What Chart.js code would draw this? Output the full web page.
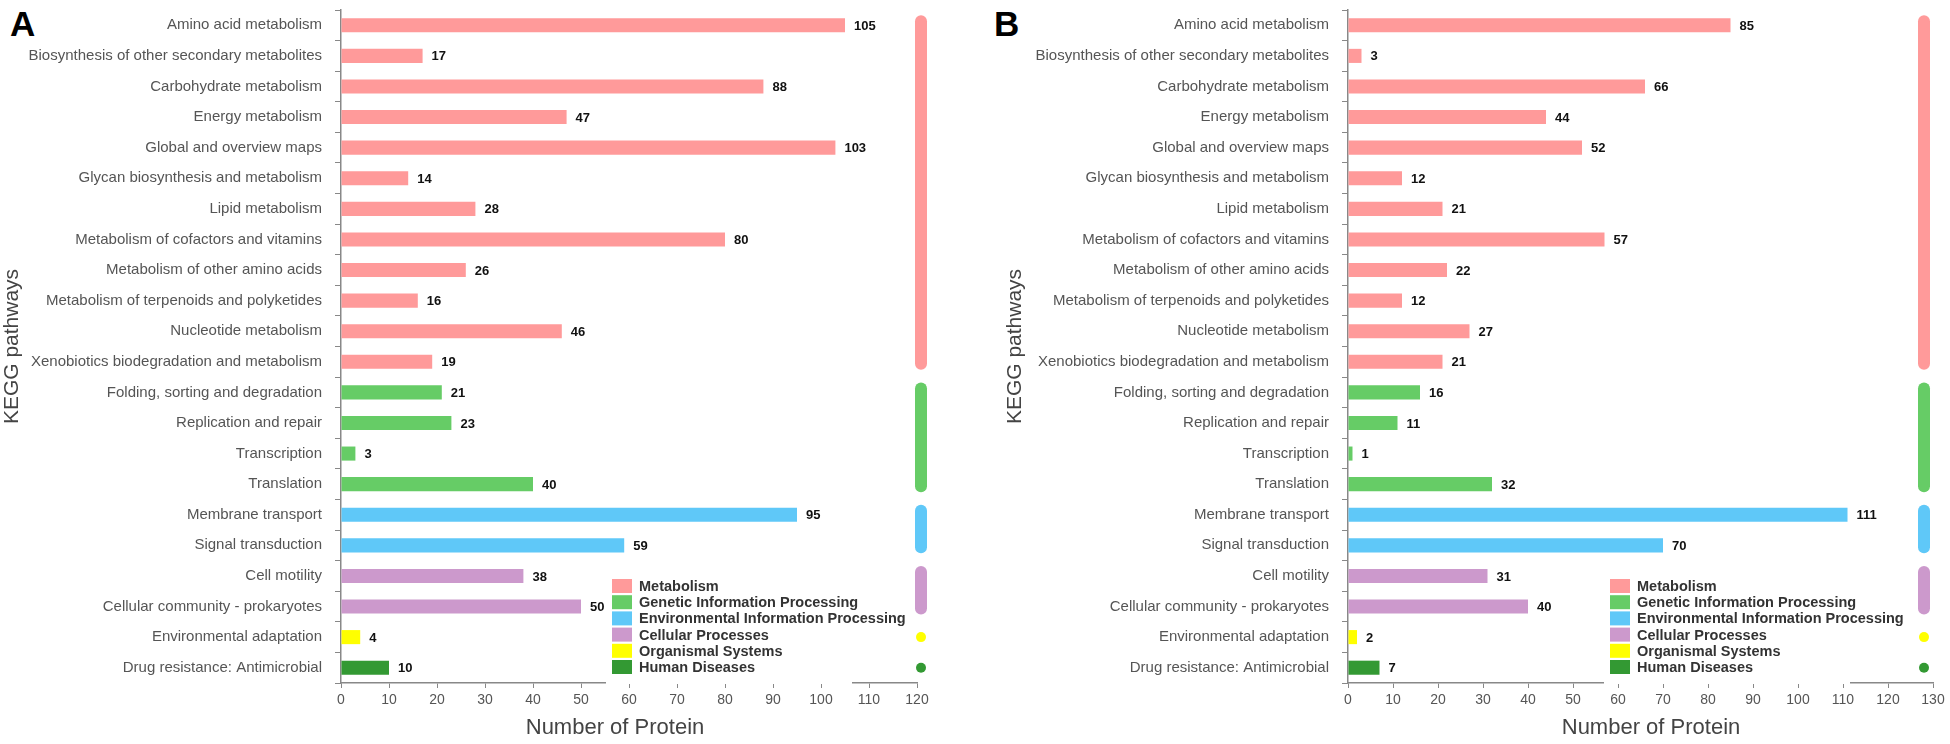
<!DOCTYPE html>
<html>
<head>
<meta charset="utf-8">
<script src="https://cdn.jsdelivr.net/npm/chart.js@4.4.1/dist/chart.umd.min.js"></script>
<style>
  body { margin: 0; background: #fff; width: 1950px; height: 744px; overflow: hidden; position: relative; font-family: "Liberation Sans", Arial, sans-serif; }
  .panel { position: absolute; top: 0; height: 744px; }
  .letter { position: absolute; top: 4px; font: bold 35px "Liberation Sans", Arial, sans-serif; color: #000; }
</style>
</head>
<body>
<div class="letter" style="left:10px">A</div>
<div class="letter" style="left:994px">B</div>
<div class="panel" style="left:0; width:1000px"><canvas id="chartA"></canvas></div>
<div class="panel" style="left:1003px; width:947px"><canvas id="chartB"></canvas></div>
<script>
// categories
const pathways = [
    'Amino acid metabolism',
    'Biosynthesis of other secondary metabolites',
    'Carbohydrate metabolism',
    'Energy metabolism',
    'Global and overview maps',
    'Glycan biosynthesis and metabolism',
    'Lipid metabolism',
    'Metabolism of cofactors and vitamins',
    'Metabolism of other amino acids',
    'Metabolism of terpenoids and polyketides',
    'Nucleotide metabolism',
    'Xenobiotics biodegradation and metabolism',
    'Folding, sorting and degradation',
    'Replication and repair',
    'Transcription',
    'Translation',
    'Membrane transport',
    'Signal transduction',
    'Cell motility',
    'Cellular community - prokaryotes',
    'Environmental adaptation',
    'Drug resistance: Antimicrobial'
];

// KEGG level-1 groups, in order, with how many pathways each holds
const groupNames = ['Metabolism', 'Genetic Information Processing', 'Environmental Information Processing',
    'Cellular Processes', 'Organismal Systems', 'Human Diseases'];
const groupSizes = [12, 4, 2, 2, 1, 1];
const groupColors = ['#ff9a9a', '#66cc66', '#5fc8f8', '#cc99cc', '#ffff00', '#339933'];

// series values
const countsA = [105, 17, 88, 47, 103, 14, 28, 80, 26, 16, 46, 19, 21, 23, 3, 40, 95, 59, 38, 50, 4, 10];
const countsB = [85, 3, 66, 44, 52, 12, 21, 57, 22, 12, 27, 21, 16, 11, 1, 32, 111, 70, 31, 40, 2, 7];

// x axis ranges
const xMaxA = 120;
const xMaxB = 130;
const xStep = 10;

const font = '"Liberation Sans", Arial, sans-serif';

// colour of each bar from its group
const barColors = [];
groupSizes.forEach((n, g) => { for (let i = 0; i < n; i++) barColors.push(groupColors[g]); });

// value labels at the end of each bar
const valueLabels = {
    id: 'valueLabels',
    afterDatasetsDraw(chart) {
        const ctx = chart.ctx;
        const vals = chart.data.datasets[0].data;
        ctx.save();
        ctx.font = 'bold 13px ' + font;
        ctx.fillStyle = '#111';
        ctx.textBaseline = 'middle';
        chart.getDatasetMeta(0).data.forEach((bar, i) => {
            ctx.fillText(vals[i], bar.x + 9, bar.y + 1);
        });
        ctx.restore();
    }
};

// rounded group bars on the right, legend box, x title
const groupMarks = {
    id: 'groupMarks',
    afterDraw(chart, args, opts) {
        const ctx = chart.ctx;
        const y = chart.scales.y;
        const area = chart.chartArea;
        ctx.save();
        // legend box hides the axis line under it
        ctx.fillStyle = '#fff';
        ctx.fillRect(opts.legendX - 6, area.bottom - 2, 246, 3);

        let start = 0;
        groupSizes.forEach((n, g) => {
            const y0 = y.getPixelForValue(start);
            const y1 = y.getPixelForValue(start + n - 1);
            ctx.strokeStyle = groupColors[g];
            ctx.fillStyle = groupColors[g];
            if (n === 1) {
                ctx.beginPath();
                ctx.arc(opts.markX, y0, 5, 0, Math.PI * 2);
                ctx.fill();
            } else {
                ctx.lineWidth = 12;
                ctx.lineCap = 'round';
                ctx.beginPath();
                ctx.moveTo(opts.markX, y0 - 4);
                ctx.lineTo(opts.markX, y1 + 2);
                ctx.stroke();
            }
            start += n;
        });

        // legend
        ctx.font = 'bold 14.5px ' + font;
        ctx.textBaseline = 'middle';
        groupNames.forEach((name, g) => {
            const ly = opts.legendY + g * 16.2;
            ctx.fillStyle = groupColors[g];
            ctx.fillRect(opts.legendX, ly - 7, 20, 14);
            ctx.fillStyle = '#333';
            ctx.fillText(name, opts.legendX + 27, ly + 1);
        });

        // x axis title
        ctx.font = '22px ' + font;
        ctx.fillStyle = '#444';
        ctx.textAlign = 'center';
        ctx.fillText('Number of Protein', opts.titleX, 728);
        ctx.restore();
    }
};

function makeChart(id, counts, xMax, yWidth, padRight, markX, legendX, titleX) {
    return new Chart(document.getElementById(id), {
        type: 'bar',
        data: {
            labels: pathways,
            datasets: [{
                data: counts,
                backgroundColor: barColors,
                categoryPercentage: 1,
                barPercentage: 0.46
            }]
        },
        options: {
            indexAxis: 'y',
            responsive: true,
            maintainAspectRatio: false,
            animation: false,
            devicePixelRatio: 1,
            layout: { padding: { top: 10, right: padRight, bottom: 0, left: 0 } },
            plugins: {
                legend: { display: false },
                tooltip: { enabled: false },
                groupMarks: { markX: markX, legendX: legendX, legendY: 586, titleX: titleX }
            },
            scales: {
                y: {
                    grid: { drawOnChartArea: false, drawTicks: true, tickLength: 6, color: '#888', offset: true },
                    border: { color: '#888', width: 1.5 },
                    ticks: { color: '#555', padding: 13, font: { family: font, size: 15 }, autoSkip: false },
                    title: { display: true, text: 'KEGG pathways', color: '#444', padding: 0, font: { family: font, size: 21 } },
                    afterFit(scale) {
                        scale.width = yWidth;
                        scale.paddingTop = 0;
                        scale.paddingBottom = 0;
                    }
                },
                x: {
                    min: 0,
                    max: xMax,
                    grid: { drawOnChartArea: false, drawTicks: true, tickLength: 5, color: '#888' },
                    border: { color: '#888', width: 1.5 },
                    ticks: { stepSize: xStep, color: '#555', padding: 4, font: { family: font, size: 14 } },
                    afterFit(scale) { scale.height = 61; }
                }
            }
        },
        plugins: [valueLabels, groupMarks]
    });
}

const chartA = makeChart('chartA', countsA, xMaxA, 341, 83, 921, 612, 615);
const chartB = makeChart('chartB', countsB, xMaxB, 345, 17, 921, 607, 648);
</script>
</body>
</html>
